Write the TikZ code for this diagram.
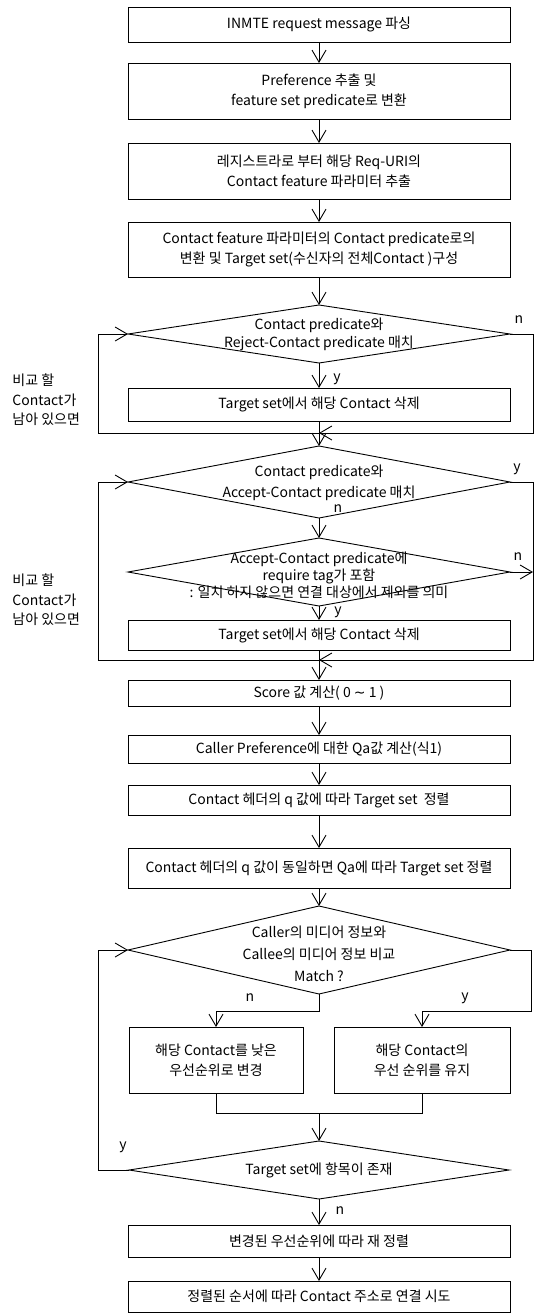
\documentclass[tikz,border=0pt]{standalone}
\usepackage{fontspec}
\setmainfont{Noto Sans CJK KR}
\newfontfamily\symfont{DejaVu Sans}
\usetikzlibrary{arrows.meta,shapes.geometric}
\begin{document}
\begin{tikzpicture}[x=1pt,y=-1pt,line width=0.9pt,
  font=\fontsize{14}{20}\selectfont,
  flow/.style={-{Straight Barb[length=12pt,width=14pt]}},
  box/.style={draw,rectangle,minimum width=382pt,inner sep=1pt,outer sep=0pt,align=center},
  decision/.style={draw,diamond,inner sep=0pt,outer sep=0pt,minimum width=382pt},
  dtext/.style={inner sep=0pt,align=center},
  tag/.style={inner sep=0pt},
  note/.style={inner sep=0pt,align=left,anchor=west,font=\fontsize{14}{19.5}\selectfont},
]
\useasboundingbox (0,0) rectangle (540,1314);

% main column
\node[box,minimum height=35pt] (b1) at (319,24.5) {INMTE request message 파싱};
\node[box,minimum height=56pt] (b2) at (319,91) {Preference 추출 및\\feature set predicate로 변환};
\node[box,minimum height=56pt] (b3) at (319,171) {레지스트라로 부터 해당 Req-URI의\\Contact feature 파라미터 추출};
\node[box,minimum height=55pt] (b4) at (319,249.5) {Contact feature 파라미터의 Contact predicate로의\\변환 및 Target set(수신자의 전체Contact )구성};

% reject check
\node[decision,minimum height=58pt] (d1) at (319,334) {};
\node[dtext,font=\fontsize{14}{18}\selectfont] (d1t) at (319,334) {Contact predicate와\\Reject-Contact predicate 매치};
\node[box,minimum height=33pt] (t1) at (319,404.5) {Target set에서 해당 Contact 삭제};

% accept check
\node[decision,minimum height=72pt] (d2) at (319,482) {};
\node[dtext,font=\fontsize{14}{21}\selectfont] (d2t) at (319,483) {Contact predicate와\\Accept-Contact predicate 매치};
\node[decision,minimum height=68pt] (d3) at (319,572) {};
\node[dtext,font=\fontsize{14}{17}\selectfont] (d3t) at (319,575) {Accept-Contact predicate에\\require tag가 포함\\: 일치 하지 않으면 연결 대상에서 제외를 의미};
\node[box,minimum height=30pt] (t2) at (319,635) {Target set에서 해당 Contact 삭제};

% scoring and sorting
\node[box,minimum height=26pt] (s1) at (319,693) {Score 값 계산( 0 {\symfont ∼} 1 )};
\node[box,minimum height=28pt] (s2) at (319,749) {Caller Preference에 대한 Qa값 계산(식1)};
\node[box,minimum height=30pt] (s3) at (319,800) {Contact 헤더의 q 값에 따라 Target set\ \ 정렬};
\node[box,minimum height=40pt] (s4) at (319,868) {Contact 헤더의 q 값이 동일하면 Qa에 따라 Target set 정렬};

% media comparison
\node[decision,minimum height=88pt] (d4) at (319,950) {};
\node[dtext,font=\fontsize{14}{22}\selectfont] (d4t) at (319,954) {Caller의 미디어 정보와\\Callee의 미디어 정보 비교\\Match ?};
\node[box,minimum width=174pt,minimum height=66pt] (bl) at (216,1060) {해당 Contact를 낮은\\우선순위로 변경};
\node[box,minimum width=176pt,minimum height=66pt] (br) at (422,1060) {해당 Contact의\\우선 순위를 유지};
\node[decision,minimum width=380pt,minimum height=58pt] (d5) at (319,1170) {};
\node[dtext] (d5t) at (319,1170) {Target set에 항목이 존재};
\node[box,minimum height=32pt] (s5) at (319,1241) {변경된 우선순위에 따라 재 정렬};
\node[box,minimum height=31pt] (s6) at (319,1296.5) {정렬된 순서에 따라 Contact 주소로 연결 시도};

% loop notes
\node[note] (c1) at (12,400) {비교 할\\Contact가\\남아 있으면};
\node[note] (c2) at (12,600) {비교 할\\Contact가\\남아 있으면};

% branch labels
\node[tag] (n1) at (519,320) {n};
\node[tag] (y1) at (337,379) {y};
\node[tag] (y2) at (517,469) {y};
\node[tag] (n2) at (338,509) {n};
\node[tag] (n3) at (518,557) {n};
\node[tag] (y3) at (338,612) {y};
\node[tag] (n4) at (250,998) {n};
\node[tag] (y4) at (465,998) {y};
\node[tag] (y5) at (123,1147) {y};
\node[tag] (n5) at (340,1211) {n};

% routing points
\coordinate (m1) at (319,433);
\coordinate (L1) at (98,334);
\coordinate (R1) at (533,334);
\coordinate (m2) at (319,660);
\coordinate (L2) at (98,482);
\coordinate (R2) at (533,482);
\coordinate (j1) at (319,1011);
\coordinate (R4) at (531,950);
\coordinate (j2) at (531,1011);
\coordinate (j3) at (319,1113);
\coordinate (L5) at (98,1170);

% connectors
\draw[flow] (b1.south) -- (b2.north);
\draw[flow] (b2.south) -- (b3.north);
\draw[flow] (b3.south) -- (b4.north);
\draw[flow] (b4.south) -- (d1.north);
\draw[flow] (d1.south) -- (t1.north);
\draw[flow] (t1.south) -- (d2.north);
\draw[flow] (d1.east) -- (R1) |- (m1);
\draw[flow] (m1) -| (L1) -- (d1.west);
\draw[flow] (d2.south) -- (d3.north);
\draw[flow] (d3.south) -- (t2.north);
\draw[flow] (t2.south) -- (s1.north);
\draw[flow] (d2.east) -- (R2) |- (m2);
\draw[flow] (d3.east) -- (d3.east -| R2);
\draw[flow] (m2) -| (L2) -- (d2.west);
\draw[flow] (s1.south) -- (s2.north);
\draw[flow] (s2.south) -- (s3.north);
\draw[flow] (s3.south) -- (s4.north);
\draw[flow] (s4.south) -- (d4.north);
\draw[flow] (d4.south) -- (j1) -| (bl.north);
\draw[flow] (d4.east) -- (R4) -- (j2) -| (br.north);
\draw (bl.south) |- (j3) -| (br.south);
\draw[flow] (j3) -- (d5.north);
\draw[flow] (d5.west) -- (L5) |- (d4.west);
\draw[flow] (d5.south) -- (s5.north);
\draw[flow] (s5.south) -- (s6.north);
\end{tikzpicture}
\end{document}
